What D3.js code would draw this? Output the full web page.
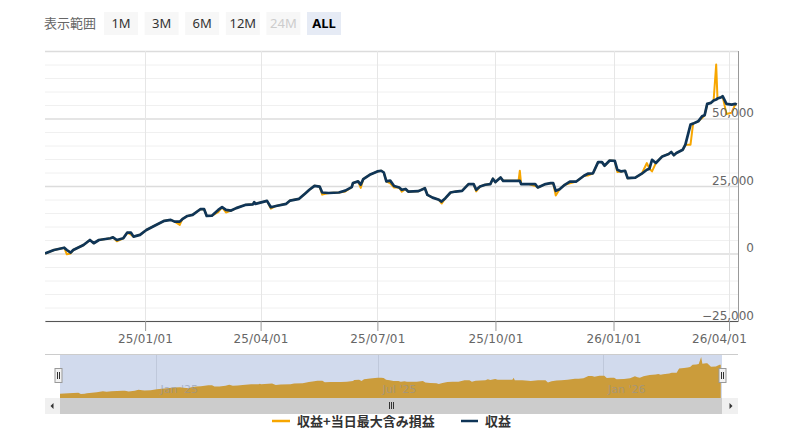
<!DOCTYPE html>
<html><head><meta charset="utf-8">
<script src="https://cdn.jsdelivr.net/npm/d3@7/dist/d3.min.js"></script>
<style>
html,body{margin:0;padding:0;background:#fff;}
svg{display:block;}
</style></head>
<body><svg id="c" width="790" height="441"></svg>
<script>
const dates = ["2024-10-15","2024-10-22","2024-10-30","2024-11-01","2024-11-04","2024-11-06","2024-11-14","2024-11-19","2024-11-22","2024-11-26","2024-12-05","2024-12-07","2024-12-10","2024-12-15","2024-12-18","2024-12-21","2024-12-23","2024-12-28","2025-01-02","2025-01-08","2025-01-16","2025-01-21","2025-01-24","2025-01-28","2025-01-30","2025-02-03","2025-02-07","2025-02-13","2025-02-16","2025-02-18","2025-02-22","2025-02-27","2025-03-02","2025-03-05","2025-03-09","2025-03-13","2025-03-20","2025-03-26","2025-03-27","2025-03-28","2025-04-06","2025-04-09","2025-04-13","2025-04-21","2025-04-24","2025-05-01","2025-05-06","2025-05-09","2025-05-13","2025-05-17","2025-05-19","2025-05-24","2025-06-01","2025-06-06","2025-06-11","2025-06-12","2025-06-16","2025-06-18","2025-06-20","2025-06-25","2025-07-01","2025-07-04","2025-07-06","2025-07-08","2025-07-11","2025-07-14","2025-07-18","2025-07-20","2025-07-23","2025-07-25","2025-08-02","2025-08-07","2025-08-09","2025-08-13","2025-08-18","2025-08-20","2025-08-23","2025-08-27","2025-08-31","2025-09-05","2025-09-10","2025-09-14","2025-09-16","2025-09-19","2025-09-23","2025-09-27","2025-09-29","2025-10-01","2025-10-05","2025-10-07","2025-10-13","2025-10-19","2025-10-20","2025-10-21","2025-10-27","2025-11-01","2025-11-03","2025-11-09","2025-11-13","2025-11-15","2025-11-17","2025-11-20","2025-11-24","2025-11-28","2025-12-03","2025-12-09","2025-12-12","2025-12-16","2025-12-20","2025-12-23","2025-12-25","2025-12-29","2026-01-02","2026-01-04","2026-01-07","2026-01-10","2026-01-12","2026-01-18","2026-01-23","2026-01-27","2026-01-29","2026-01-31","2026-02-03","2026-02-08","2026-02-13","2026-02-15","2026-02-17","2026-02-19","2026-02-24","2026-02-26","2026-03-02","2026-03-04","2026-03-08","2026-03-11","2026-03-13","2026-03-15","2026-03-18","2026-03-20","2026-03-22","2026-03-23","2026-03-26","2026-03-27","2026-03-30","2026-04-03","2026-04-06","2026-04-07"];
const profit = [0,1300,2150,1300,300,1300,3150,5000,3800,5000,5650,6000,5000,5650,7700,7700,6250,6900,8700,10200,12100,12450,11800,11800,12700,13900,14300,16400,16400,13900,14000,16150,17150,16150,15900,16800,18000,18200,19000,18400,19500,17150,17600,18400,19600,20250,22350,23600,25050,24800,22600,22400,22600,23300,24600,26100,26700,25450,27550,29150,30400,30650,30000,26700,27000,25000,24450,23600,23900,22950,23100,24200,21700,20700,19900,19250,20500,22600,22950,23200,25700,25700,23600,24800,25450,25700,27700,26450,28150,26900,26900,26900,26900,25700,25700,25700,24450,25700,26050,26050,23200,23800,25450,26650,26650,28800,29550,29700,33850,33850,32500,34450,34300,31000,30400,30650,27900,28100,29550,31000,31400,34700,33500,35950,36850,37600,36400,37200,38450,40300,47750,48100,48950,50800,51200,55400,55800,56650,57000,57400,57900,58250,55400,55150,55400,55150];
const profitWithMaxLoss = [0,1300,2150,-300,0,1300,3150,5000,3800,5000,5650,6000,4500,5650,7700,7000,6250,6900,8700,10200,12100,12450,11800,10600,12700,13900,14300,16400,16400,13900,14000,15300,17150,15200,15900,16800,18000,18200,19000,18400,19500,16600,17600,18400,19600,20250,22350,23600,25050,24800,21800,22400,22600,23000,24600,26100,26700,24300,27550,29150,30400,30650,30000,26700,26000,24400,24450,22900,23900,22950,23100,24200,21700,20700,19900,18500,20500,22600,22950,23200,25700,25700,23000,24800,25450,25700,27700,26450,28150,26900,26900,26900,30650,25700,25700,25000,24450,25700,26050,26050,21500,23800,25450,26000,26650,28800,28900,29700,33850,33850,32500,34450,34300,30200,30400,30650,27900,28100,29550,33500,31400,30400,33500,35950,36850,37600,36400,37200,38450,40300,40300,48100,48950,50200,51200,55400,55800,56650,70000,57400,57900,58250,51700,52100,55400,55150];
const xTickDates = ["2025-01-01","2025-04-01","2025-07-01","2025-10-01","2026-01-01","2026-04-01"];
const navTickDates = ["2025-01-01","2025-07-01","2026-01-01"];
const yTicks = [-25000,0,25000,50000];
const buttons = ["1M","3M","6M","12M","24M","ALL"];
const seriesNames = ["収益+当日最大含み損益","収益"];
const colors = ["#f7a600","#0f3557"];

const parse = d3.timeParse("%Y-%m-%d");
const pts = dates.map((d,i)=>({t:parse(d), a:profitWithMaxLoss[i], b:profit[i]}));
const svg = d3.select("#c");
const L=45, R=738, T=51, B=321;

const x = d3.scaleTime().domain([parse("2024-10-15"), parse("2026-04-08")]).range([L,R]);
const y = d3.scaleLinear().domain([-25000,75000]).range([B,T]);

// range selector
svg.append("text").attr("x",44).attr("y",28).attr("fill","#666")
  .style("font","13px 'Noto Sans CJK JP'").text("表示範囲");
buttons.forEach((b,i)=>{
  const bx = 104 + i*40.6;
  svg.append("rect").attr("x",bx).attr("y",12).attr("width",34).attr("height",23)
    .attr("fill", b==="ALL" ? "#e6ebf5" : "#f7f7f7");
  svg.append("text").attr("x",bx+17).attr("y",28).attr("text-anchor","middle")
    .attr("fill", b==="24M" ? "#cccccc" : (b==="ALL" ? "#000" : "#333"))
    .style("font", (b==="ALL"?"bold ":"")+"13px 'Noto Sans'").text(b);
});

// gridlines
const minor = d3.range(-25000,75001,5000);
svg.append("g").selectAll("line").data(minor).join("line")
  .attr("x1",L).attr("x2",R).attr("y1",d=>y(d)+0.5).attr("y2",d=>y(d)+0.5)
  .attr("stroke", d=> d%25000===0 ? "#dcdcdc" : "#f0f0f0")
  .attr("stroke-width", d=> d%25000===0 ? 1.5 : 1);
svg.append("g").selectAll("line").data(xTickDates.map(parse)).join("line")
  .attr("x1",d=>Math.round(x(d))+0.5).attr("x2",d=>Math.round(x(d))+0.5).attr("y1",T).attr("y2",B)
  .attr("stroke","#e6e6e6");

// series
svg.append("clipPath").attr("id","clip").append("rect").attr("x",L).attr("y",T-30).attr("width",R-L).attr("height",B-T+30);
const g = svg.append("g").attr("clip-path","url(#clip)");
const lineA = d3.line().x(d=>x(d.t)).y(d=>y(d.a));
const lineB = d3.line().x(d=>x(d.t)).y(d=>y(d.b));
g.append("path").datum(pts).attr("d",lineA).attr("fill","none").attr("stroke",colors[0])
  .attr("stroke-width",2).attr("stroke-linejoin","round");
g.append("path").datum(pts).attr("d",lineB).attr("fill","none").attr("stroke",colors[1])
  .attr("stroke-width",2.7).attr("stroke-linejoin","round");

// axes
const xAxis = d3.axisBottom(x).tickValues(xTickDates.map(parse)).tickFormat(d3.timeFormat("%y/%m/%d")).tickSize(10).tickSizeOuter(0);
const gx = svg.append("g").attr("transform",`translate(0,${B})`).call(xAxis);
gx.select(".domain").attr("stroke","#555");
gx.selectAll(".tick line").attr("stroke","#999");
gx.selectAll("text").attr("fill","#666").attr("dy",null).attr("y",21.5)
  .attr("x",(d,i,n)=> i===n.length-1 ? -10 : 0)
  .style("font","12px 'DejaVu Sans'").style("letter-spacing","0.15px");

const yAxis = d3.axisRight(y).tickValues(yTicks).tickFormat(d3.format(",")).tickSize(0);
const gy = svg.append("g").attr("transform",`translate(${R},0)`).call(yAxis);
gy.select(".domain").attr("stroke","#999").attr("d",`M0.5,${T}V${B}`);
gy.selectAll("text").attr("text-anchor","end").attr("x",16).attr("dy",null).attr("y",-2)
  .attr("fill","#666").style("font","12px 'DejaVu Sans'");
gy.selectAll(".tick text").attr("dominant-baseline","alphabetic");

// navigator
const NL=60, NR=722, NT=354, NB=398;
const xn = d3.scaleTime().domain(x.domain()).range([NL,NR]);
const yn = d3.scaleLinear().domain([d3.min(profitWithMaxLoss), d3.max(profitWithMaxLoss)]).range([394,357]);
svg.append("g").selectAll("line").data(navTickDates.map(parse)).join("line")
  .attr("x1",d=>Math.round(xn(d))+0.5).attr("x2",d=>Math.round(xn(d))+0.5).attr("y1",NT).attr("y2",NB)
  .attr("stroke","#e6e6e6");
svg.append("path").datum(pts).attr("d", d3.area().x(d=>xn(d.t)).y0(NB).y1(d=>yn(d.a)))
  .attr("fill",colors[0]);
svg.append("g").selectAll("text").data(navTickDates.map(parse)).join("text")
  .attr("x",d=>xn(d)+5).attr("y",393).attr("fill","#999").attr("opacity",0.55)
  .style("font","11px 'DejaVu Sans'").text(d3.timeFormat("%b '%y"));
svg.append("rect").attr("x",NL).attr("y",NT).attr("width",NR-NL).attr("height",NB-NT)
  .attr("fill","rgba(102,133,194,0.3)");
svg.append("line").attr("x1",L).attr("x2",R).attr("y1",NT+0.5).attr("y2",NT+0.5).attr("stroke","#cccccc");
// handles
[NL-1.5, NR+0.5].forEach(hx=>{
  svg.append("rect").attr("x",hx-3.5).attr("y",368.5).attr("width",7).attr("height",14)
    .attr("fill","#f2f2f2").attr("stroke","#999");
  svg.append("line").attr("x1",hx-1).attr("x2",hx-1).attr("y1",372).attr("y2",379).attr("stroke","#333");
  svg.append("line").attr("x1",hx+1).attr("x2",hx+1).attr("y1",372).attr("y2",379).attr("stroke","#333");
});
// scrollbar
svg.append("rect").attr("x",L).attr("y",NB).attr("width",R-L).attr("height",16).attr("fill","#f2f2f2");
svg.append("rect").attr("x",NL).attr("y",NB).attr("width",NR-NL).attr("height",16).attr("fill","#cccccc");
svg.append("rect").attr("x",L).attr("y",NB).attr("width",15).attr("height",16).attr("fill","#f0f0f0");
svg.append("rect").attr("x",NR).attr("y",NB).attr("width",R-NR).attr("height",16).attr("fill","#f0f0f0");
svg.append("path").attr("d",`M${L+8.5},${NB+5}L${L+5.5},${NB+8}L${L+8.5},${NB+11}Z`).attr("fill","#333");
svg.append("path").attr("d",`M${NR+7.5},${NB+5}L${NR+10.5},${NB+8}L${NR+7.5},${NB+11}Z`).attr("fill","#333");
[-2,0,2].forEach(o=>{
  svg.append("line").attr("x1",(NL+NR)/2+o+0.5).attr("x2",(NL+NR)/2+o+0.5).attr("y1",NB+4).attr("y2",NB+11).attr("stroke","#333");
});

// legend
const leg = [{x:272,w:18,name:seriesNames[0],c:colors[0]},{x:461,w:17,name:seriesNames[1],c:colors[1]}];
leg.forEach(l=>{
  svg.append("line").attr("x1",l.x).attr("x2",l.x+l.w).attr("y1",421).attr("y2",421)
    .attr("stroke",l.c).attr("stroke-width",2.5);
  svg.append("text").attr("x",l.x+l.w+7).attr("y",425.5).attr("fill","#333")
    .style("font","bold 13px 'Noto Sans CJK JP'").text(l.name);
});
</script></body></html>
